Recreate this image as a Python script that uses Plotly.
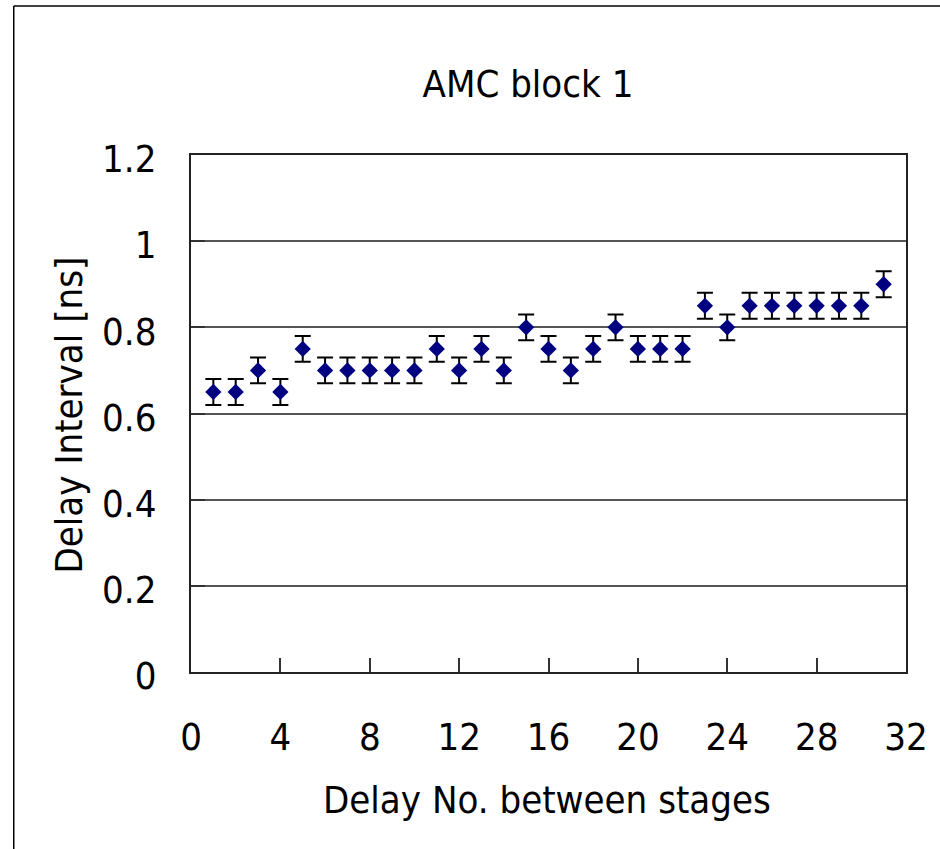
import plotly.graph_objects as go

# Delay intervals measured for each stage of AMC block 1
delay_no = list(range(1, 32))
interval_ns = [0.65, 0.65, 0.70, 0.65, 0.75, 0.70, 0.70, 0.70, 0.70, 0.70,
               0.75, 0.70, 0.75, 0.70, 0.80, 0.75, 0.70, 0.75, 0.80, 0.75,
               0.75, 0.75, 0.85, 0.80, 0.85, 0.85, 0.85, 0.85, 0.85, 0.85,
               0.90]
error_ns = [0.03] * len(delay_no)

x_ticks = [0, 4, 8, 12, 16, 20, 24, 28, 32]
y_ticks = [0, 0.2, 0.4, 0.6, 0.8, 1, 1.2]
y_tick_text = ["0", "0.2", "0.4", "0.6", "0.8", "1", "1.2"]

FONT = "DejaVu Sans Condensed, Liberation Sans Narrow, sans-serif"
W, H = 940, 849
L, R, T, B = 191, 31, 155, 177
pw, ph = W - L - R, H - T - B


def px_to_paper(x, y):
    return (x - L) / pw, (H - B - y) / ph


fig = go.Figure()
fig.add_trace(go.Scatter(
    x=delay_no, y=interval_ns, mode="markers",
    marker=dict(symbol="diamond", size=12.5, color="#000080", line=dict(width=0)),
    error_y=dict(type="data", array=error_ns, visible=True,
                 color="black", thickness=2, width=8),
    showlegend=False,
))

# outer chart frame (top and left edges)
x0, y0 = px_to_paper(13, 6)
x1, _ = px_to_paper(W + 5, 6)
_, y1 = px_to_paper(13, H + 5)
shapes = [
    dict(type="line", xref="paper", yref="paper", x0=x0, y0=y0, x1=x1, y1=y0,
         line=dict(color="black", width=1.5)),
    dict(type="line", xref="paper", yref="paper", x0=x0, y0=y0, x1=x0, y1=y1,
         line=dict(color="black", width=1.5)),
]

fig.update_layout(
    width=W, height=H,
    margin=dict(l=L, r=R, t=T, b=B),
    paper_bgcolor="white", plot_bgcolor="white",
    font=dict(family=FONT, size=38, color="black"),
    title=dict(text="AMC block 1", x=528 / W, xref="container", xanchor="center",
               y=1 - 84 / H, yref="container", yanchor="middle",
               font=dict(family=FONT, size=38, color="black")),
    shapes=shapes,
    annotations=[
        dict(text="Delay No. between stages", xref="paper", yref="paper",
             x=(548 - L) / pw, y=(H - B - 800) / ph, xanchor="center", yanchor="middle",
             showarrow=False, font=dict(family=FONT, size=38, color="black")),
        dict(text="Delay Interval [ns]", xref="paper", yref="paper",
             x=(68 - L) / pw, y=(H - B - 415) / ph, xanchor="center", yanchor="middle",
             textangle=-90, showarrow=False,
             font=dict(family=FONT, size=38, color="black")),
    ],
)

fig.update_xaxes(
    range=[0, 32], tickvals=x_ticks, ticktext=[str(v) for v in x_ticks],
    ticks="inside", ticklen=14, tickwidth=1.5, tickcolor="#333",
    showgrid=False, zeroline=False,
    showline=True, linecolor="#222", linewidth=2, mirror=True,
    tickfont=dict(family=FONT, size=38), ticklabelstandoff=30,
)
fig.update_yaxes(
    range=[0, 1.2], tickvals=y_ticks, ticktext=y_tick_text,
    ticks="inside", ticklen=14, tickwidth=1.5, tickcolor="#333",
    showgrid=True, gridcolor="#555", gridwidth=1.5, zeroline=False,
    showline=True, linecolor="#222", linewidth=2, mirror=True,
    tickfont=dict(family=FONT, size=38), ticklabelstandoff=25,
    ticklabelshift=4,
)

fig.write_html("out.html")
